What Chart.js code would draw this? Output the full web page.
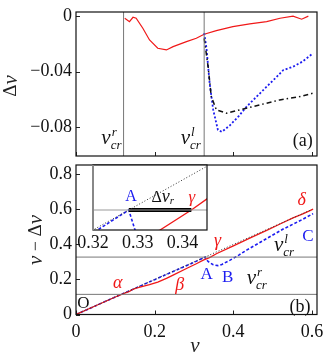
<!DOCTYPE html>
<html>
<head>
<meta charset="utf-8">
<script src="https://cdn.jsdelivr.net/npm/chart.js@4.4.1/dist/chart.umd.min.js"></script>
<style>
  body { margin: 0; background: #fff; }
  #page { position: relative; width: 327px; height: 358px; overflow: hidden; }
  canvas { position: absolute; }
</style>
</head>
<body>
<div id="page">
  <canvas id="chartA" width="327" height="160" style="left:0;top:0"></canvas>
  <canvas id="chartB" width="327" height="198" style="left:0;top:160px"></canvas>
  <canvas id="chartInset" width="145" height="95" style="left:75px;top:160px"></canvas>
</div>
<script>
const serif = '"Liberation Serif", "Times New Roman", serif';

// ---- panel (a): shift Δv against v ----
const vCrR = 0.121;
const vCrL = 0.326;
const redV   = [0.124, 0.136, 0.145, 0.153, 0.170, 0.187, 0.208, 0.230, 0.247, 0.281, 0.306, 0.326, 0.357, 0.399, 0.442, 0.485, 0.519, 0.552, 0.574, 0.591];
const redDv  = [-0.0015, -0.004, -0.0008, -0.0015, -0.0087, -0.0172, -0.0232, -0.0244, -0.022, -0.0184, -0.016, -0.0131, -0.0105, -0.0076, -0.0056, -0.004, -0.0015, 0, -0.0022, 0];
const blueV  = [0.326, 0.332, 0.340, 0.349, 0.361, 0.371, 0.391, 0.414, 0.434, 0.460, 0.485, 0.510, 0.527, 0.552, 0.575, 0.603];
const blueDv = [-0.0123, -0.0234, -0.0485, -0.0677, -0.0822, -0.0836, -0.079, -0.0722, -0.0653, -0.058, -0.0509, -0.044, -0.039, -0.0365, -0.033, -0.0268];
const blackV  = [0.326, 0.336, 0.344, 0.357, 0.383, 0.416, 0.467, 0.518, 0.569, 0.603];
const blackDv = [-0.016, -0.0365, -0.058, -0.0677, -0.0701, -0.0677, -0.0641, -0.0605, -0.0581, -0.0556];
const ticksAX = [0, 0.2, 0.4, 0.6];
const ticksAY = [-0.08, -0.04, 0];

// ---- panel (b): v - Δv against v ----
const redBV  = [0, 0.05, 0.10, 0.124, 0.136, 0.145, 0.153, 0.170, 0.187, 0.208, 0.230, 0.247, 0.281, 0.306, 0.325, 0.335, 0.342, 0.357, 0.399, 0.442, 0.485, 0.519, 0.552, 0.574, 0.591, 0.603];
const redBY  = [0, 0.05, 0.10, 0.122, 0.132, 0.144, 0.151, 0.161, 0.170, 0.185, 0.206, 0.225, 0.263, 0.290, 0.312, 0.320, 0.328, 0.347, 0.391, 0.436, 0.481, 0.517, 0.552, 0.572, 0.589, 0.602];
const blueBV = [0, 0.10, 0.20, 0.30, 0.321, 0.328, 0.3294, 0.336, 0.349, 0.361, 0.371, 0.391, 0.414, 0.434, 0.460, 0.485, 0.510, 0.527, 0.552, 0.575, 0.603];
const blueBY = [0, 0.10, 0.199, 0.298, 0.320, 0.328, 0.320, 0.303, 0.284, 0.279, 0.286, 0.309, 0.339, 0.368, 0.401, 0.434, 0.466, 0.488, 0.516, 0.542, 0.576];
const diagV = [0, 0.6];
const levelLow = 0.115;
const levelHigh = 0.328;
const gapV = [0.328, 0.342];
const ticksBX = [0, 0.2, 0.4, 0.6];
const ticksBY = [0, 0.2, 0.4, 0.6, 0.8];
const ticksInsetX = [0.32, 0.33, 0.34];

const RED = '#f01818';
const BLUE = '#1c1cf0';

function pts(xs, ys) {
  return xs.map(function (x, i) { return { x: x, y: ys[i] }; });
}

function fmt(v) {
  const n = Number(v.toFixed(3));
  if (n === 0) return '0';
  return (n < 0 ? '\u2212' : '') + String(Math.abs(n));
}

function lineSet(data, color, width, dash) {
  return {
    data: data,
    borderColor: color,
    borderWidth: width,
    borderDash: dash || [],
    pointRadius: 0,
    fill: false,
    tension: 0
  };
}

function axis(min, max, tickList, o) {
  return {
    type: 'linear',
    min: min,
    max: max,
    grid: { display: false, drawTicks: false },
    border: { display: false },
    afterBuildTicks: function (s) { s.ticks = tickList.map(function (v) { return { value: v }; }); },
    ticks: {
      display: o.labels,
      autoSkip: false,
      maxRotation: 0,
      padding: o.pad || 3,
      color: '#111',
      font: { family: serif, size: 18 },
      callback: function (v) { return fmt(v); }
    },
    afterFit: function (s) {
      // keep the plot box where the layout padding puts it
      s.paddingTop = s.paddingBottom = s.paddingLeft = s.paddingRight = 0;
      if (o.w != null) s.width = o.w;
      if (o.h != null) s.height = o.h;
    }
  };
}

// text made of runs with different fonts, centred on (cx, cy)
function drawRuns(ctx, runs, cx, cy, color) {
  let w = 0;
  runs.forEach(function (r) { ctx.font = r.f; r.w = ctx.measureText(r.t).width; w += r.w; });
  let x = cx - w / 2;
  ctx.fillStyle = color;
  ctx.textAlign = 'left';
  ctx.textBaseline = 'middle';
  runs.forEach(function (r) { ctx.font = r.f; ctx.fillText(r.t, x, cy + (r.dy || 0)); x += r.w; });
}

// v with a subscript and a superscript
function drawVsub(ctx, cx, cy, sub, sup, color) {
  const big = 'italic 21px ' + serif, small = 'italic 13px ' + serif;
  ctx.font = big; const wv = ctx.measureText('v').width;
  ctx.font = small;
  const ws = ctx.measureText(sub).width, wp = sup ? ctx.measureText(sup).width : 0;
  const x0 = cx - (wv + Math.max(ws, wp)) / 2;
  ctx.fillStyle = color;
  ctx.textAlign = 'left';
  ctx.textBaseline = 'alphabetic';
  ctx.font = big; ctx.fillText('v', x0, cy + 4);
  ctx.font = small; ctx.fillText(sub, x0 + wv, cy + 9);
  if (sup) ctx.fillText(sup, x0 + wv + 1, cy - 4);
}

function decor(cfg) {
  return {
    id: 'decor',
    beforeDraw: function (chart) {
      if (!cfg.background) return;
      const a = chart.chartArea;
      chart.ctx.save();
      chart.ctx.fillStyle = '#fff';
      chart.ctx.fillRect(a.left, a.top, a.right - a.left, a.bottom - a.top);
      chart.ctx.restore();
    },
    afterDraw: function (chart) {
      const ctx = chart.ctx, a = chart.chartArea, sx = chart.scales.x, sy = chart.scales.y;
      ctx.save();
      ctx.strokeStyle = '#222';
      ctx.lineWidth = 1;
      ctx.beginPath();
      (cfg.tickX || []).forEach(function (v) {
        const px = Math.round(sx.getPixelForValue(v)) + 0.5;
        ctx.moveTo(px, a.bottom); ctx.lineTo(px, a.bottom - 4);
      });
      (cfg.tickY || []).forEach(function (v) {
        const py = Math.round(sy.getPixelForValue(v)) + 0.5;
        ctx.moveTo(a.left, py); ctx.lineTo(a.left + 4, py);
      });
      ctx.stroke();
      ctx.strokeStyle = '#111';
      ctx.lineWidth = 1.2;
      ctx.strokeRect(a.left, a.top, a.right - a.left, a.bottom - a.top);
      if (cfg.grayLeft) {
        ctx.strokeStyle = '#888';
        ctx.lineWidth = 2;
        ctx.beginPath(); ctx.moveTo(a.left, a.top); ctx.lineTo(a.left, a.bottom); ctx.stroke();
      }
      (cfg.labels || []).forEach(function (l) {
        const px = sx.getPixelForValue(l.x), py = sy.getPixelForValue(l.y);
        if (l.vsub) {
          drawVsub(ctx, px, py, l.vsub, l.sup, l.color || '#111');
        } else {
          drawRuns(ctx, l.runs, px, py, l.color || '#111');
        }
      });
      (cfg.titles || []).forEach(function (t) {
        ctx.save();
        ctx.translate(t.x, t.y);
        if (t.rot) ctx.rotate(t.rot);
        drawRuns(ctx, t.runs, 0, 0, '#222');
        ctx.restore();
      });
      ctx.restore();
    }
  };
}

const up = function (s) { return s + 'px ' + serif; };
const it = function (s) { return 'italic ' + s + 'px ' + serif; };

// ---------- panel (a) ----------
new Chart(document.getElementById('chartA'), {
  type: 'line',
  data: {
    datasets: [
      lineSet([{ x: vCrR, y: -0.2 }, { x: vCrR, y: 0.1 }], '#777', 1),
      lineSet([{ x: vCrL, y: -0.2 }, { x: vCrL, y: 0.1 }], '#777', 1),
      lineSet(pts(blackV, blackDv), '#111', 1.5, [5, 3, 1.5, 3]),
      lineSet(pts(blueV, blueDv), BLUE, 1.8, [2, 2]),
      lineSet(pts(redV, redDv), RED, 1.2)
    ]
  },
  options: {
    responsive: false,
    animation: false,
    layout: { padding: { top: 12, right: 10, left: 0, bottom: 0 } },
    plugins: { legend: { display: false }, tooltip: { enabled: false } },
    scales: {
      x: axis(0, 0.613, ticksAX, { labels: false, h: 4 }),
      y: axis(-0.101, 0.003, ticksAY, { labels: true, w: 76, pad: 4 })
    }
  },
  plugins: [decor({
    tickX: ticksAX,
    tickY: ticksAY,
    labels: [
      { x: 0.090, y: -0.0894, vsub: 'cr', sup: 'r' },
      { x: 0.292, y: -0.0894, vsub: 'cr', sup: 'l' },
      { x: 0.577, y: -0.0905, runs: [{ t: '(a)', f: up(18) }] }
    ],
    titles: [
      { x: 11, y: 86, rot: -Math.PI / 2, runs: [{ t: '\u0394', f: up(19) }, { t: 'v', f: it(21) }] }
    ]
  })]
});

// ---------- panel (b) ----------
new Chart(document.getElementById('chartB'), {
  type: 'line',
  data: {
    datasets: [
      lineSet([{ x: 0, y: levelLow }, { x: 0.7, y: levelLow }], '#777', 1),
      lineSet([{ x: 0, y: levelHigh }, { x: 0.7, y: levelHigh }], '#777', 1),
      lineSet(pts(diagV, diagV), '#333', 1, [1, 2]),
      lineSet(pts(redBV, redBY), RED, 1.3),
      lineSet(pts(blueBV, blueBY), BLUE, 1.6, [3, 2])
    ]
  },
  options: {
    responsive: false,
    animation: false,
    layout: { padding: { top: 5, right: 10, left: 0, bottom: 0 } },
    plugins: { legend: { display: false }, tooltip: { enabled: false } },
    scales: {
      x: axis(0, 0.613, ticksBX, { labels: true, h: 43.5, pad: 7 }),
      y: axis(0, 0.854, ticksBY, { labels: true, w: 76, pad: 4 })
    }
  },
  plugins: [decor({
    tickX: ticksBX,
    tickY: ticksBY,
    labels: [
      { x: 0.019, y: 0.06, runs: [{ t: 'O', f: up(17) }] },
      { x: 0.106, y: 0.18, color: RED, runs: [{ t: '\u03b1', f: it(18) }] },
      { x: 0.264, y: 0.169, color: RED, runs: [{ t: '\u03b2', f: it(18) }] },
      { x: 0.332, y: 0.226, color: BLUE, runs: [{ t: 'A', f: up(17) }] },
      { x: 0.386, y: 0.209, color: BLUE, runs: [{ t: 'B', f: up(17) }] },
      { x: 0.46, y: 0.197, vsub: 'cr', sup: 'r' },
      { x: 0.36, y: 0.42, color: RED, runs: [{ t: '\u03b3', f: it(18) }] },
      { x: 0.574, y: 0.654, color: RED, runs: [{ t: '\u03b4', f: it(18) }] },
      { x: 0.59, y: 0.443, color: BLUE, runs: [{ t: 'C', f: up(17) }] },
      { x: 0.529, y: 0.386, vsub: 'cr', sup: 'l' },
      { x: 0.57, y: 0.043, runs: [{ t: '(b)', f: up(18) }] }
    ],
    titles: [
      { x: 36, y: 80, rot: -Math.PI / 2, runs: [{ t: 'v', f: it(21) }, { t: ' \u2212 ', f: up(18) }, { t: '\u0394', f: up(19) }, { t: 'v', f: it(21) }] },
      { x: 195, y: 186, runs: [{ t: 'v', f: it(21) }] }
    ]
  })]
});

// ---------- inset of panel (b) ----------
new Chart(document.getElementById('chartInset'), {
  type: 'line',
  data: {
    datasets: [
      lineSet([{ x: 0, y: levelHigh }, { x: 0.7, y: levelHigh }], '#999', 1.2),
      lineSet(pts(diagV, diagV), '#333', 1, [1, 2]),
      lineSet(pts(gapV, [levelHigh, levelHigh]), '#000', 4),
      lineSet(pts(redBV, redBY), RED, 1.3),
      lineSet(pts(blueBV, blueBY), BLUE, 1.6, [3, 2])
    ]
  },
  options: {
    responsive: false,
    animation: false,
    layout: { padding: { top: 5, right: 13, left: 0, bottom: 0 } },
    plugins: { legend: { display: false }, tooltip: { enabled: false } },
    scales: {
      x: axis(0.32, 0.3455, ticksInsetX, { labels: true, h: 25, pad: 2 }),
      y: axis(0.32, 0.346, [], { labels: false, w: 18 })
    }
  },
  plugins: [decor({
    background: true,
    grayLeft: true,
    labels: [
      { x: 0.3285, y: 0.3332, color: BLUE, runs: [{ t: 'A', f: up(16) }] },
      { x: 0.3356, y: 0.3330, runs: [{ t: '\u0394', f: up(16) }, { t: 'v', f: it(18) }, { t: 'r', f: it(11), dy: 4 }] },
      { x: 0.3421, y: 0.3330, color: RED, runs: [{ t: '\u03b3', f: it(17) }] }
    ]
  })]
});
</script>
</body>
</html>
